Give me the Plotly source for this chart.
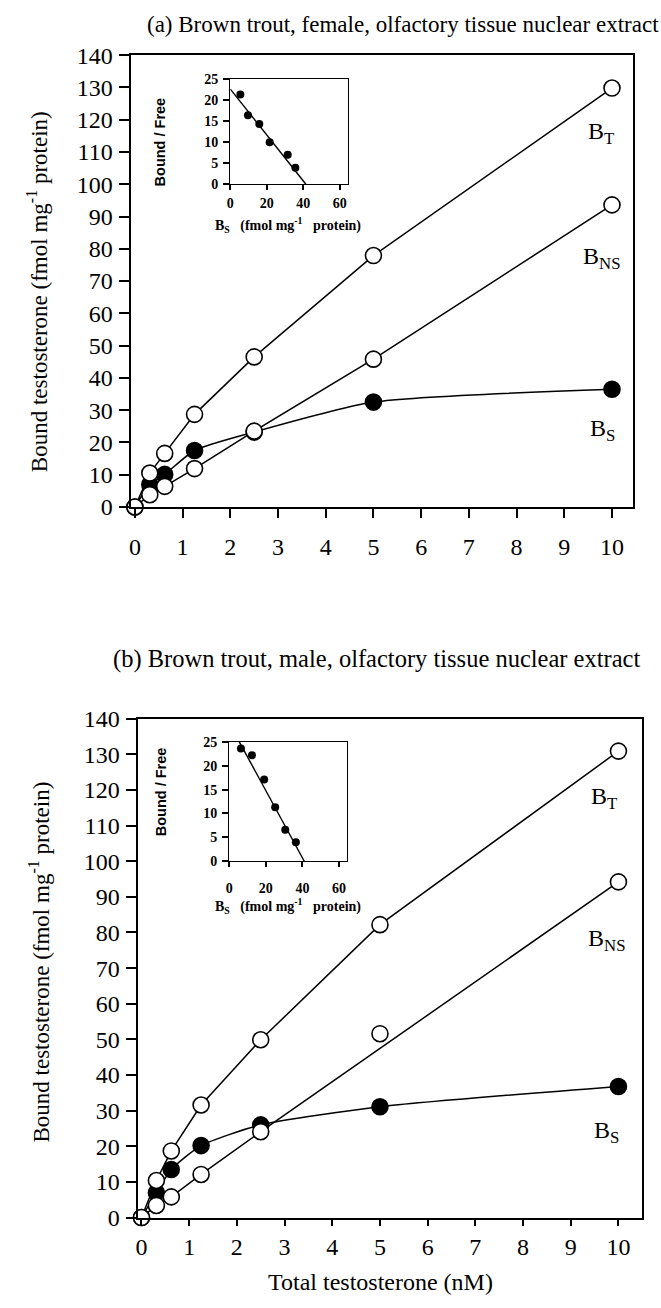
import plotly.graph_objects as go

W, H = 661, 1308

# ---------------- data ----------------
conc = [0, 0.3125, 0.625, 1.25, 2.5, 5, 10]

a_bt = [0, 10.5, 16.6, 28.7, 46.5, 77.9, 129.8]
a_bns = [0, 3.8, 6.4, 11.9, 23.5, 45.8, 93.6]
a_bs = [0, 7.0, 10.1, 17.5, 23.2, 32.5, 36.5]

b_bt = [0, 10.4, 18.7, 31.6, 49.9, 82.2, 130.9]
b_bns = [0, 3.4, 5.8, 12.1, 24.1, 51.6, 94.2]
b_bs = [0, 7.0, 13.5, 20.2, 26.0, 31.1, 36.8]
b_bns_line_skip = [5]   # point not on the drawn B_NS line in panel (b)

# Scatchard insets
a_sc_x = [5.5, 9.7, 15.9, 21.6, 31.5, 35.7]
a_sc_y = [21.3, 16.4, 14.3, 10.0, 7.0, 3.9]
a_fit_x = [0, 41.5]
a_fit_y = [22.6, 0]

b_sc_x = [6.4, 12.4, 19.1, 25.1, 30.6, 36.4]
b_sc_y = [23.6, 22.2, 17.1, 11.3, 6.6, 4.0]
b_fit_x = [5.5, 41.0]
b_fit_y = [25.0, 0]

x_ticks = list(range(0, 11))
y_ticks = list(range(0, 141, 10))
ins_x_ticks = [0, 20, 40, 60]
ins_y_ticks = [0, 5, 10, 15, 20, 25]

title_a = "(a) Brown trout, female, olfactory tissue nuclear extract"
title_b = "(b) Brown trout, male, olfactory tissue nuclear extract"
ytitle = "Bound testosterone (fmol mg<sup>-1</sup> protein)"
xtitle = "Total testosterone (nM)"
ins_ytitle = "Bound / Free"
ins_xtitle = "B<sub>S</sub>   (fmol mg<sup>-1</sup>   protein)"

SERIF = "Liberation Serif"
SANS = "Liberation Sans"


def px_x(p):
    return p / W


def px_y(p):
    return 1 - p / H


fig = go.Figure()

open_marker = dict(symbol="circle", size=16, color="white", line=dict(color="black", width=1.6))
fill_marker = dict(symbol="circle", size=16, color="black", line=dict(color="black", width=1.6))
LINE = dict(color="black", width=1.5)


def add_main(xa, ya, bt, bns, bs, skip):
    fig.add_trace(go.Scatter(x=conc, y=bs, mode="lines",
                             line=dict(color="black", width=1.5, shape="spline", smoothing=0.6),
                             xaxis=xa, yaxis=ya, cliponaxis=False, hoverinfo="skip"))
    lx = [c for c in conc if c not in skip]
    ly = [v for c, v in zip(conc, bns) if c not in skip]
    fig.add_trace(go.Scatter(x=lx, y=ly, mode="lines", line=LINE, xaxis=xa, yaxis=ya,
                             cliponaxis=False, hoverinfo="skip"))
    fig.add_trace(go.Scatter(x=conc, y=bt, mode="lines", line=LINE, xaxis=xa, yaxis=ya,
                             cliponaxis=False, hoverinfo="skip"))
    fig.add_trace(go.Scatter(x=conc[1:], y=bs[1:], mode="markers", marker=fill_marker,
                             xaxis=xa, yaxis=ya, cliponaxis=False))
    fig.add_trace(go.Scatter(x=conc, y=bns, mode="markers", marker=open_marker,
                             xaxis=xa, yaxis=ya, cliponaxis=False))
    fig.add_trace(go.Scatter(x=conc, y=bt, mode="markers", marker=open_marker,
                             xaxis=xa, yaxis=ya, cliponaxis=False))


def add_inset(xa, ya, sx, sy, fx, fy):
    fig.add_trace(go.Scatter(x=fx, y=fy, mode="lines", line=dict(color="black", width=1.4),
                             xaxis=xa, yaxis=ya, cliponaxis=True, hoverinfo="skip"))
    fig.add_trace(go.Scatter(x=sx, y=sy, mode="markers", marker=dict(size=8, color="black"),
                             xaxis=xa, yaxis=ya, cliponaxis=False))


add_main("x", "y", a_bt, a_bns, a_bs, [])
add_inset("x2", "y2", a_sc_x, a_sc_y, a_fit_x, a_fit_y)
add_main("x3", "y3", b_bt, b_bns, b_bs, b_bns_line_skip)
add_inset("x4", "y4", b_sc_x, b_sc_y, b_fit_x, b_fit_y)

main_x = dict(showline=True, mirror=True, linecolor="black", linewidth=1.5, ticks="outside",
              tickwidth=1.5, tickcolor="black", tickvals=x_ticks, showgrid=False, zeroline=False,
              tickfont=dict(family=SERIF, size=24, color="black"))
main_y = dict(showline=True, mirror=True, linecolor="black", linewidth=1.5, ticks="outside", ticklen=10,
              tickwidth=1.5, tickcolor="black", tickvals=y_ticks, showgrid=False, zeroline=False,
              tickfont=dict(family=SERIF, size=24, color="black"), range=[0, 140], ticklabelstandoff=2)
ins_x = dict(showline=True, mirror=True, linecolor="black", linewidth=1.4, ticks="outside", ticklen=5,
             tickwidth=1.6, tickcolor="black", tickvals=ins_x_ticks, showgrid=False, zeroline=False,
             tickfont=dict(family=SERIF, size=14, color="black", weight="bold"))
ins_y = dict(showline=True, mirror=True, linecolor="black", linewidth=1.4, ticks="outside", ticklen=6,
             tickwidth=1.6, tickcolor="black", tickvals=ins_y_ticks, showgrid=False, zeroline=False,
             tickfont=dict(family=SERIF, size=14, color="black", weight="bold"), range=[0, 25],
             ticklabelstandoff=2)

# panel geometry (pixels)
A_TOP, A_BOT = 43, 504
B_TOP, B_BOT = 720, 1229
B_UNIT = (B_BOT - B_TOP) / 140.0
A_UNIT = (A_BOT - A_TOP) / 140.0

a_in_bot = A_BOT - 100 * A_UNIT
a_in_top = A_BOT - 132.6 * A_UNIT
b_in_bot = B_BOT - 100 * B_UNIT
b_in_top = B_BOT - 133.5 * B_UNIT

fig.update_layout(
    width=W, height=H, margin=dict(l=0, r=0, t=0, b=0),
    paper_bgcolor="white", plot_bgcolor="rgba(0,0,0,0)", showlegend=False,
    xaxis=dict(main_x, domain=[px_x(128), px_x(633)], range=[-0.077, 10.444], anchor="y",
               ticklen=9, ticklabelstandoff=8),
    yaxis=dict(main_y, domain=[px_y(A_BOT), px_y(A_TOP)], anchor="x"),
    xaxis2=dict(ins_x, domain=[px_x(227.7), px_x(346.3)], range=[0, 64.7], anchor="y2",
                ticklabelstandoff=1),
    yaxis2=dict(ins_y, domain=[px_y(a_in_bot), px_y(a_in_top)], anchor="x2"),
    xaxis3=dict(main_x, domain=[px_x(135), px_x(641.7)], range=[-0.069, 10.49], anchor="y3",
                ticklen=7, ticklabelstandoff=0),
    yaxis3=dict(main_y, domain=[px_y(B_BOT), px_y(B_TOP)], anchor="x3"),
    xaxis4=dict(ins_x, domain=[px_x(226.6), px_x(345.2)], range=[0, 64.4], anchor="y4",
                ticklabelstandoff=9),
    yaxis4=dict(ins_y, domain=[px_y(b_in_bot), px_y(b_in_top)], anchor="x4"),
)

ann = []


def paper_text(text, x, y, size, family=SERIF, angle=0, bold=False):
    ann.append(dict(text=text, x=px_x(x), y=px_y(y), xref="paper", yref="paper", showarrow=False,
                    xanchor="center", yanchor="middle", textangle=angle,
                    font=dict(family=family, size=size, color="black",
                              weight="bold" if bold else "normal")))


paper_text(title_a, 401, 12, 23)
paper_text(title_b, 375, 659, 24.5)
paper_text(ytitle, 34, 284, 23, angle=-90)
paper_text(ytitle, 36, 968, 23, angle=-90)
paper_text(xtitle, 379, 1295, 24)
paper_text(ins_ytitle, 157, 132, 14.5, family=SANS, angle=-90, bold=True)
paper_text(ins_ytitle, 158, 795, 14.5, family=SANS, angle=-90, bold=True)
paper_text(ins_xtitle, 286, a_in_bot + 42, 14, bold=True)
paper_text(ins_xtitle, 286, b_in_bot + 46, 14, bold=True)


def label(text, x, y, xr, yr):
    ann.append(dict(text=text, x=x, y=y, xref=xr, yref=yr, showarrow=False, xanchor="center",
                    yanchor="middle", font=dict(family=SERIF, size=24, color="black")))


label("B<sub>T</sub>", 9.76, 116, "x", "y")
label("B<sub>NS</sub>", 9.78, 77.3, "x", "y")
label("B<sub>S</sub>", 9.8, 24, "x", "y")
label("B<sub>T</sub>", 9.7, 117.8, "x3", "y3")
label("B<sub>NS</sub>", 9.75, 77.9, "x3", "y3")
label("B<sub>S</sub>", 9.75, 24.1, "x3", "y3")

fig.update_layout(annotations=ann)
fig.write_html("out.html")
